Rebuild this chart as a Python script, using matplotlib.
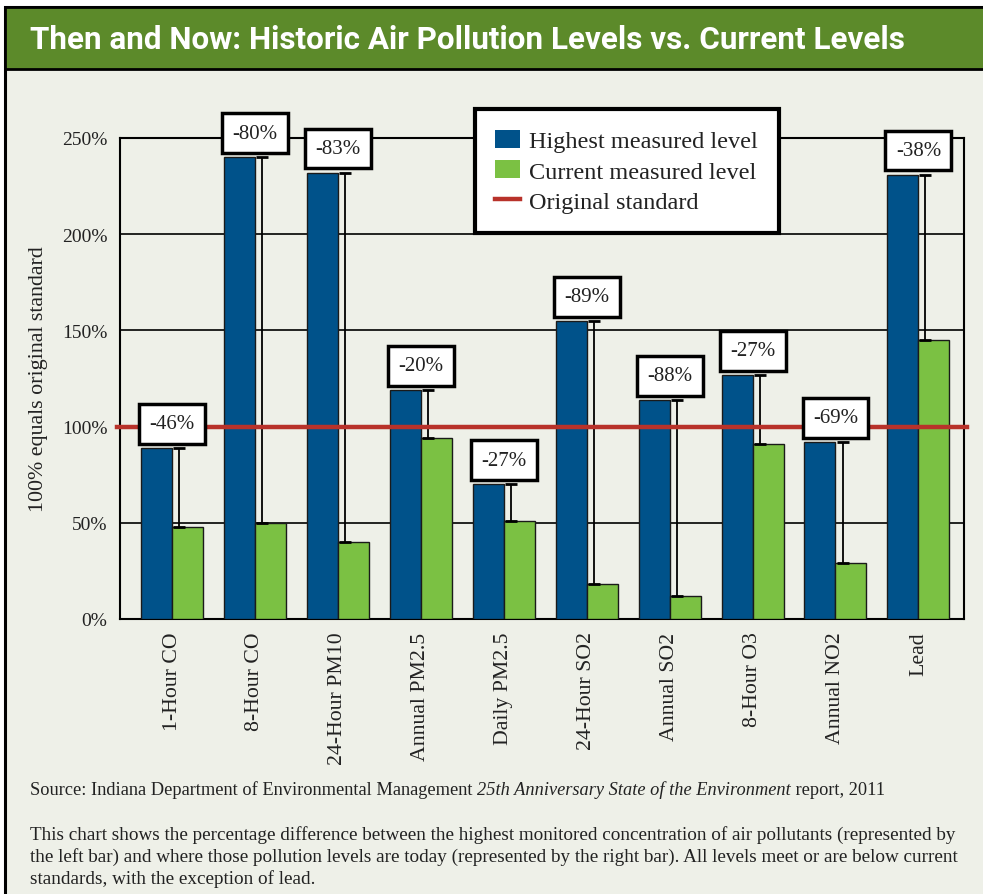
import numpy as np
import matplotlib
matplotlib.use("Agg")
import matplotlib.pyplot as plt
from matplotlib.patches import Rectangle, Patch
from matplotlib.lines import Line2D

# data
categories = ["1-Hour CO", "8-Hour CO", "24-Hour PM10", "Annual PM2.5", "Daily PM2.5",
              "24-Hour SO2", "Annual SO2", "8-Hour O3", "Annual NO2", "Lead"]
highest = [89, 240, 232, 119, 70, 155, 114, 127, 92, 231]
current = [48, 50, 40, 94, 51, 18, 12, 91, 29, 145]
change_labels = ["-46%", "-80%", "-83%", "-20%", "-27%", "-89%", "-88%", "-27%", "-69%", "-38%"]
yticks = [0, 50, 100, 150, 200, 250]
standard = 100

BLUE = "#00528a"
GREEN = "#7bc143"
RED = "#b8322a"
BG = "#eef0e8"
TITLE_GREEN = "#5c8a2a"
TEXT = "#222222"
SERIF = ["Liberation Serif", "DejaVu Serif"]

fig = plt.figure(figsize=(9.83, 8.95), dpi=100)
fig.patch.set_facecolor("white")
renderer = fig.canvas.get_renderer()

# panel and title bar
fig.patches.append(Rectangle((0.005, -0.01), 1.0, 1.001, transform=fig.transFigure,
                             facecolor=BG, edgecolor="black", linewidth=2.2, zorder=-2))
fig.patches.append(Rectangle((0.005, 0.9218), 1.0, 0.0692, transform=fig.transFigure,
                             facecolor=TITLE_GREEN, edgecolor="black", linewidth=2.0, zorder=-1))
title = fig.text(0.0305, 0.9555, "Then and Now: Historic Air Pollution Levels vs. Current Levels",
                 color="white", fontsize=22, fontweight="bold", va="center", ha="left",
                 family=["Roboto", "DejaVu Sans"])
# shrink title to the width it has in the original (about 875 px)
tw = title.get_window_extent(renderer).width
title.set_fontsize(22 * 875 / tw)

ax = fig.add_axes([0.1221, 0.3073, 0.9807 - 0.1221, 0.8447 - 0.3073])
ax.patch.set_alpha(0)

x = np.arange(len(categories))
w = 0.374
ax.bar(x - w / 2, highest, w, color=BLUE, edgecolor="#1a1a1a", linewidth=1, zorder=3)
ax.bar(x + w / 2, current, w, color=GREEN, edgecolor="#1a1a1a", linewidth=1, zorder=3)

# drop lines from highest to current
low = np.array(highest) - np.array(current)
ax.errorbar(x + 0.085, highest, yerr=[low, np.zeros(len(x))], fmt="none",
            ecolor="black", elinewidth=1.3, capsize=4.5, capthick=2, zorder=4)

ax.axhline(standard, color=RED, linewidth=3.2, zorder=5, xmin=-0.003, xmax=1.003, clip_on=False)

for xi, h, lab in zip(x, highest, change_labels):
    ax.text(xi, h + 12.5, lab, ha="center", va="center", fontsize=15, color=TEXT,
            family=SERIF, zorder=6,
            bbox=dict(boxstyle="square,pad=0.5", facecolor="white", edgecolor="black", linewidth=2.5))

ax.set_xlim(-0.627, 9.55)
ax.set_ylim(0, 250)
ax.set_yticks(yticks)
ax.set_yticklabels([f"{t}%" for t in yticks], family=SERIF, fontsize=14, color=TEXT)
ax.set_xticks(x)
ax.set_xticklabels(categories, rotation=90, family=SERIF, fontsize=15.7, color=TEXT)
ax.tick_params(length=0, pad=9)
ax.yaxis.grid(True, color="black", linewidth=1.2, zorder=0)
ax.set_axisbelow(True)
for s in ax.spines.values():
    s.set_linewidth(1.5)
ax.set_ylabel("100% equals original standard", family=SERIF, fontsize=15.8, color=TEXT, labelpad=10)

handles = [Patch(facecolor=BLUE, edgecolor="none"),
           Patch(facecolor=GREEN, edgecolor="none"),
           Line2D([0], [0], color=RED, linewidth=3.2)]
leg = fig.legend(handles, ["Highest measured level", "Current measured level", "Original standard"],
                 loc="upper left", bbox_to_anchor=(0.483, 0.877), bbox_transform=fig.transFigure,
                 borderaxespad=0, fancybox=False, framealpha=1, edgecolor="black",
                 handlelength=1.0, handleheight=0.8, handletextpad=0.4, labelspacing=0.3,
                 borderpad=0.85, prop={"family": SERIF, "size": 17.5})
leg.get_frame().set_linewidth(3)
for t in leg.get_texts():
    t.set_color(TEXT)

# source line with italic title
parts = [("Source: Indiana Department of Environmental Management ", "normal"),
         ("25th Anniversary State of the Environment", "italic"),
         (" report, 2011", "normal")]
xpos = 0.0305
for txt, style in parts:
    t = fig.text(xpos, 0.1173, txt, fontsize=13.2, style=style, family=SERIF, color=TEXT,
                 va="center", ha="left")
    bb = t.get_window_extent(renderer)
    xpos += bb.width / fig.bbox.width

desc = ("This chart shows the percentage difference between the highest monitored concentration of air pollutants (represented by\n"
        "the left bar) and where those pollution levels are today (represented by the right bar). All levels meet or are below current\n"
        "standards, with the exception of lead.")
fig.text(0.0305, 0.0425, desc, fontsize=13.8, family=SERIF, color=TEXT, va="center", ha="left",
         linespacing=1.3)

fig.savefig("out.png", dpi=100, facecolor=fig.get_facecolor())
